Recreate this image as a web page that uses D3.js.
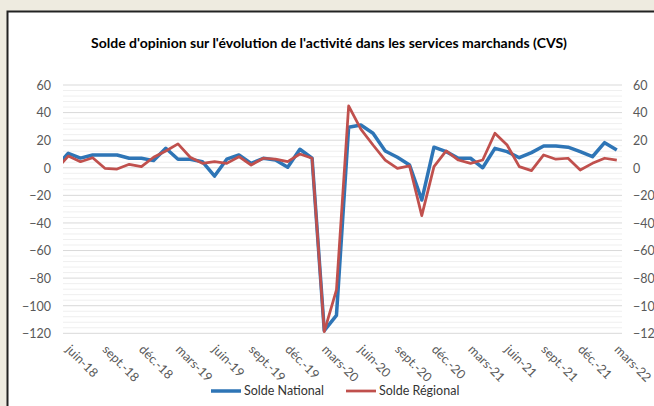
<!DOCTYPE html>
<html>
<head>
<meta charset="utf-8">
<script src="https://cdn.jsdelivr.net/npm/d3@7"></script>
<style>
  body { margin: 0; background: #eeebe0; }
  svg { display: block; }
</style>
</head>
<body>
<svg id="chart"></svg>
<script>
const months = ['mai-18','juin-18','juil.-18','août-18','sept.-18','oct.-18','nov.-18','déc.-18',
  'janv.-19','févr.-19','mars-19','avr.-19','mai-19','juin-19','juil.-19','août-19','sept.-19','oct.-19','nov.-19','déc.-19',
  'janv.-20','févr.-20','mars-20','avr.-20','mai-20','juin-20','juil.-20','août-20','sept.-20','oct.-20','nov.-20','déc.-20',
  'janv.-21','févr.-21','mars-21','avr.-21','mai-21','juin-21','juil.-21','août-21','sept.-21','oct.-21','nov.-21','déc.-21',
  'janv.-22','févr.-22','mars-22'];

const national = [1, 10.5, 7, 9.3, 9.3, 9.3, 6.9, 6.9, 5.2, 14.1, 6.2, 6.2, 4.4, -6, 6.2, 9.3, 3.2, 6.9, 5.6, 0.4,
  13.4, 6.9, -118, -107, 29.4, 31, 25, 12.2, 7.6, 2, -23.4, 14.9, 11.7, 6.9, 6.9, 0, 14.1, 11.7, 7.3, 11,
  15.8, 15.8, 14.9, 11.7, 8, 18.2, 12.9];

const regional = [-1.5, 8.5, 4.4, 7.3, -0.4, -0.9, 2.5, 0.8, 7.6, 12.2, 17.3, 7.6, 3.2, 4.4, 3.2, 8, 2, 6.9, 6.2, 4.4,
  10, 6.9, -118.8, -88.6, 44.8, 28, 16.5, 5.6, -0.4, 1.3, -34.7, 0.8, 12.2, 5.6, 3.2, 5.6, 25, 16.5, 0.8, -2.1,
  9.3, 6.2, 6.9, -1.6, 3.2, 6.9, 5.6];

const yTicks = [60, 40, 20, 0, -20, -40, -60, -80, -100, -120];
const seriesNames = ['Solde National', 'Solde Régional'];
const seriesColors = ['#2e75b6', '#c0504d'];

const W = 654, H = 406;
const svg = d3.select('#chart').attr('width', W).attr('height', H);

// white chart panel
svg.append('rect')
  .attr('x', 7.5).attr('y', 11.5).attr('width', W).attr('height', H)
  .attr('fill', '#fff').attr('stroke', '#222').attr('stroke-width', 2);

const plot = {left: 63, right: 622, top: 85, bottom: 333.3};

const x = d3.scaleLinear().domain([0, months.length - 1]).range([56.1, 616.8]);
const y = d3.scaleLinear().domain([-120, 60]).range([plot.bottom, plot.top]);

// minor grid
svg.append('g').selectAll('line')
  .data(d3.range(-120, 61, 4).filter(v => v % 20 !== 0))
  .enter().append('line')
  .attr('x1', plot.left).attr('x2', plot.right)
  .attr('y1', d => y(d)).attr('y2', d => y(d))
  .attr('stroke', '#efefef').attr('stroke-width', 1);

// major grid
svg.append('g').selectAll('line')
  .data(yTicks)
  .enter().append('line')
  .attr('x1', plot.left).attr('x2', plot.right)
  .attr('y1', d => y(d)).attr('y2', d => y(d))
  .attr('stroke', '#d9d9d9').attr('stroke-width', 1);

const font = 'Lato, "Open Sans", sans-serif';

// left / right axes
const yAxisL = svg.append('g').attr('transform', `translate(${plot.left - 12},0)`)
  .call(d3.axisLeft(y).tickValues(yTicks).tickSize(0).tickPadding(0).tickFormat(d3.format('d')));
const yAxisR = svg.append('g').attr('transform', `translate(${plot.right + 11},0)`)
  .call(d3.axisRight(y).tickValues(yTicks).tickSize(0).tickPadding(0).tickFormat(d3.format('d')));
[yAxisL, yAxisR].forEach(a => {
  a.select('.domain').remove();
  a.selectAll('text').attr('fill', '#595959').style('font', `12.5px ${font}`).attr('dy', '0.35em');
});

// x labels every 3 months
const xTickIdx = d3.range(1, months.length, 3);
svg.append('g').selectAll('text')
  .data(xTickIdx)
  .enter().append('text')
  .attr('transform', d => `translate(${x(d) + 4},${plot.bottom + 10}) rotate(45)`)
  .attr('dy', '0.8em')
  .attr('fill', '#595959')
  .style('font', `12.5px ${font}`)
  .text(d => months[d]);

// lines
svg.append('clipPath').attr('id', 'clip').append('rect')
  .attr('x', plot.left).attr('y', 0).attr('width', plot.right - plot.left).attr('height', H);

const line = d3.line().x((d, i) => x(i)).y(d => y(d));
const lines = svg.append('g').attr('clip-path', 'url(#clip)');
[national, regional].forEach((s, i) => {
  lines.append('path')
    .attr('d', line(s))
    .attr('fill', 'none')
    .attr('stroke', seriesColors[i])
    .attr('stroke-width', i === 0 ? 3.5 : 2.75)
    .attr('stroke-linejoin', 'round');
});

// title
svg.append('text')
  .attr('x', 329).attr('y', 48)
  .attr('text-anchor', 'middle')
  .attr('fill', '#000')
  .style('font', `bold 14px ${font}`)
  .text("Solde d'opinion sur l'évolution de l'activité dans les services marchands (CVS)");

// legend
const legendX = [211, 346];
const leg = svg.append('g').selectAll('g')
  .data(seriesNames)
  .enter().append('g')
  .attr('transform', (d, i) => `translate(${legendX[i]},391)`);
leg.append('line')
  .attr('x1', 0).attr('x2', 30)
  .attr('stroke', (d, i) => seriesColors[i])
  .attr('stroke-width', (d, i) => i === 0 ? 3.5 : 2.75);
leg.append('text')
  .attr('x', 33).attr('dy', '0.35em')
  .attr('fill', '#333')
  .style('font', `12.5px ${font}`)
  .text(d => d);
</script>
</body>
</html>
